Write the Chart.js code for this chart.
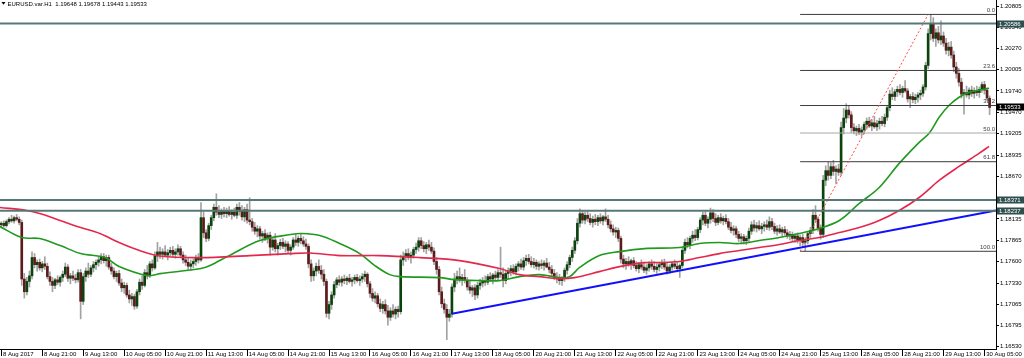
<!DOCTYPE html>
<html>
<head>
<meta charset="utf-8">
<script src="https://cdn.jsdelivr.net/npm/chart.js@4.4.0/dist/chart.umd.min.js"></script>
<style>
html, body { margin: 0; padding: 0; background: #fff; }
#wrap { width: 1024px; height: 358px; }
</style>
</head>
<body>
<div id="wrap"><canvas id="chart" width="1024" height="358"></canvas></div>
<script>
// EURUSD H1, 8 Aug 2017 05:00 .. 30 Aug 2017 07:00
const tickLabels = ['8 Aug 2017', '8 Aug 21:00', '9 Aug 13:00', '10 Aug 05:00', '10 Aug 21:00', '11 Aug 13:00',
  '14 Aug 05:00', '14 Aug 21:00', '15 Aug 13:00', '16 Aug 05:00', '16 Aug 21:00', '17 Aug 13:00', '18 Aug 05:00',
  '20 Aug 21:00', '21 Aug 13:00', '22 Aug 05:00', '22 Aug 21:00', '23 Aug 13:00', '24 Aug 05:00', '24 Aug 21:00',
  '25 Aug 13:00', '28 Aug 05:00', '28 Aug 21:00', '29 Aug 13:00', '30 Aug 05:00'];

const priceTicks = [1.20805, 1.20540, 1.20270, 1.20005, 1.19740, 1.19470, 1.19205, 1.18935, 1.18670,
  1.18135, 1.17865, 1.17600, 1.17330, 1.17065, 1.16795, 1.16530];

const opens = [
  1.1806,1.1808,1.1805,1.1810,1.1813,1.1811,1.1815,1.1813,1.1809,1.1738,
  1.1722,1.1735,1.1742,1.1765,1.1756,1.1759,1.1752,1.1757,1.1754,1.1741,
  1.1735,1.1730,1.1737,1.1734,1.1740,1.1744,1.1753,1.1739,1.1742,1.1739,
  1.1737,1.1746,1.1710,1.1741,1.1748,1.1744,1.1752,1.1756,1.1759,1.1762,
  1.1766,1.1761,1.1765,1.1753,1.1748,1.1741,1.1745,1.1733,1.1727,1.1730,
  1.1718,1.1713,1.1716,1.1704,1.1722,1.1734,1.1730,1.1746,1.1742,1.1757,
  1.1752,1.1767,1.1772,1.1769,1.1772,1.1768,1.1771,1.1774,1.1769,1.1772,
  1.1776,1.1768,1.1762,1.1759,1.1754,1.1757,1.1760,1.1764,1.1762,1.1815,
  1.1796,1.1789,1.1805,1.1815,1.1828,1.1822,1.1819,1.1823,1.1820,1.1824,
  1.1819,1.1822,1.1818,1.1828,1.1823,1.1816,1.1825,1.1812,1.1810,1.1803,
  1.1798,1.1801,1.1792,1.1795,1.1789,1.1793,1.1778,1.1787,1.1776,1.1780,
  1.1784,1.1779,1.1782,1.1774,1.1778,1.1787,1.1784,1.1789,1.1786,1.1782,
  1.1779,1.1757,1.1742,1.1748,1.1754,1.1749,1.1744,1.1735,1.1695,1.1706,
  1.1718,1.1731,1.1737,1.1734,1.1738,1.1736,1.1739,1.1735,1.1737,1.1740,
  1.1736,1.1738,1.1741,1.1744,1.1732,1.1720,1.1714,1.1717,1.1707,1.1701,
  1.1706,1.1698,1.1690,1.1698,1.1694,1.1700,1.1697,1.1762,1.1766,1.1770,
  1.1765,1.1768,1.1775,1.1778,1.1786,1.1780,1.1776,1.1781,1.1778,1.1773,
  1.1760,1.1750,1.1722,1.1707,1.1700,1.1690,1.1694,1.1728,1.1738,1.1741,
  1.1737,1.1740,1.1736,1.1728,1.1724,1.1727,1.1718,1.1730,1.1733,1.1736,
  1.1734,1.1741,1.1738,1.1743,1.1740,1.1746,1.1744,1.1736,1.1745,1.1748,
  1.1751,1.1747,1.1754,1.1757,1.1753,1.1761,1.1764,1.1760,1.1756,1.1759,
  1.1754,1.1757,1.1755,1.1758,1.1753,1.1750,1.1745,1.1740,1.1738,1.1736,
  1.1739,1.1749,1.1756,1.1765,1.1774,1.1786,1.1808,1.1820,1.1812,1.1818,
  1.1814,1.1809,1.1813,1.1810,1.1815,1.1811,1.1816,1.1813,1.1806,1.1801,
  1.1797,1.1799,1.1789,1.1763,1.1757,1.1760,1.1757,1.1761,1.1755,1.1751,
  1.1756,1.1753,1.1749,1.1752,1.1757,1.1754,1.1750,1.1753,1.1756,1.1758,
  1.1753,1.1748,1.1753,1.1757,1.1754,1.1751,1.1755,1.1774,1.1784,1.1781,
  1.1789,1.1793,1.1790,1.1800,1.1812,1.1818,1.1808,1.1813,1.1821,1.1814,
  1.1809,1.1815,1.1811,1.1814,1.1810,1.1803,1.1799,1.1801,1.1794,1.1789,
  1.1791,1.1786,1.1789,1.1798,1.1806,1.1802,1.1805,1.1801,1.1804,1.1806,
  1.1803,1.1810,1.1804,1.1798,1.1801,1.1797,1.1800,1.1796,1.1792,1.1794,
  1.1789,1.1792,1.1787,1.1790,1.1784,1.1786,1.1795,1.1799,1.1818,1.1813,
  1.1802,1.1794,1.1862,1.1874,1.1868,1.1879,1.1873,1.1876,1.1872,1.1928,
  1.1940,1.1950,1.1944,1.1928,1.1924,1.1927,1.1922,1.1925,1.1932,1.1936,
  1.1930,1.1934,1.1929,1.1933,1.1936,1.1933,1.1941,1.1953,1.1970,1.1967,
  1.1973,1.1976,1.1972,1.1977,1.1974,1.1964,1.1967,1.1963,1.1966,1.1969,
  1.1971,1.1979,1.2006,1.2046,1.2058,1.2040,1.2047,1.2038,1.2043,1.2034,
  1.2025,1.2029,1.2019,1.2004,1.1996,1.1985,1.1970,1.1972,1.1969,1.1975,
  1.1971,1.1974,1.1972,1.1976,1.1982,1.1975,1.19648
];
const highs = [
  1.1810,1.1811,1.1812,1.1815,1.1818,1.1817,1.1819,1.1816,1.1812,1.1745,
  1.1740,1.1748,1.1772,1.1770,1.1762,1.1763,1.1760,1.1766,1.1758,1.1747,
  1.1740,1.1739,1.1742,1.1742,1.1748,1.1758,1.1756,1.1745,1.1748,1.1744,
  1.1750,1.1750,1.1745,1.1752,1.1758,1.1755,1.1760,1.1762,1.1766,1.1770,
  1.1770,1.1768,1.1768,1.1758,1.1752,1.1748,1.1749,1.1738,1.1734,1.1733,
  1.1724,1.1720,1.1719,1.1725,1.1738,1.1742,1.1750,1.1755,1.1760,1.1762,
  1.1772,1.1784,1.1778,1.1776,1.1780,1.1775,1.1778,1.1779,1.1776,1.1781,
  1.1779,1.1772,1.1768,1.1764,1.1762,1.1763,1.1768,1.1770,1.1834,1.1822,
  1.1800,1.1808,1.1818,1.1832,1.1845,1.1830,1.1826,1.1828,1.1827,1.1829,
  1.1825,1.1827,1.1832,1.1834,1.1830,1.1828,1.1832,1.1840,1.1814,1.1809,
  1.1805,1.1804,1.1798,1.1800,1.1796,1.1797,1.1790,1.1795,1.1783,1.1788,
  1.1789,1.1786,1.1785,1.1781,1.1790,1.1794,1.1792,1.1795,1.1791,1.1788,
  1.1782,1.1762,1.1752,1.1758,1.1762,1.1755,1.1750,1.1738,1.1710,1.1722,
  1.1735,1.1740,1.1742,1.1741,1.1743,1.1741,1.1744,1.1740,1.1743,1.1744,
  1.1742,1.1745,1.1748,1.1746,1.1735,1.1726,1.1722,1.1720,1.1713,1.1710,
  1.1712,1.1705,1.1702,1.1706,1.1703,1.1704,1.1768,1.1772,1.1775,1.1776,
  1.1772,1.1778,1.1783,1.1790,1.1790,1.1785,1.1784,1.1787,1.1784,1.1777,
  1.1765,1.1754,1.1728,1.1713,1.1706,1.1700,1.1732,1.1745,1.1748,1.1752,
  1.1744,1.1750,1.1740,1.1735,1.1730,1.1731,1.1734,1.1738,1.1740,1.1742,
  1.1744,1.1746,1.1745,1.1748,1.1750,1.1778,1.1752,1.1748,1.1752,1.1755,
  1.1756,1.1757,1.1760,1.1763,1.1765,1.1768,1.1769,1.1766,1.1764,1.1762,
  1.1760,1.1762,1.1761,1.1764,1.1759,1.1755,1.1750,1.1746,1.1744,1.1741,
  1.1752,1.1760,1.1768,1.1778,1.1790,1.1814,1.1826,1.1824,1.1822,1.1823,
  1.1820,1.1817,1.1819,1.1818,1.1820,1.1818,1.1826,1.1818,1.1811,1.1806,
  1.1803,1.1802,1.1792,1.1768,1.1764,1.1766,1.1763,1.1765,1.1760,1.1759,
  1.1762,1.1758,1.1756,1.1760,1.1762,1.1760,1.1757,1.1759,1.1762,1.1763,
  1.1758,1.1756,1.1760,1.1762,1.1759,1.1757,1.1778,1.1788,1.1790,1.1792,
  1.1798,1.1800,1.1803,1.1815,1.1822,1.1824,1.1816,1.1827,1.1825,1.1820,
  1.1818,1.1820,1.1817,1.1819,1.1814,1.1809,1.1805,1.1804,1.1798,1.1795,
  1.1794,1.1792,1.1802,1.1810,1.1812,1.1809,1.1811,1.1808,1.1810,1.1812,
  1.1816,1.1814,1.1808,1.1805,1.1806,1.1803,1.1804,1.1800,1.1798,1.1797,
  1.1795,1.1796,1.1793,1.1794,1.1790,1.1797,1.1803,1.1825,1.1830,1.1816,
  1.1806,1.1868,1.1880,1.1885,1.1884,1.1887,1.1880,1.1882,1.1935,1.1952,
  1.1958,1.1956,1.1948,1.1933,1.1930,1.1932,1.1929,1.1935,1.1940,1.1941,
  1.1938,1.1942,1.1937,1.1940,1.1942,1.1945,1.1956,1.1975,1.1978,1.1976,
  1.1980,1.1982,1.1980,1.1987,1.1977,1.1970,1.1972,1.1970,1.1972,1.1975,
  1.1982,1.2010,1.2052,1.2070,1.2066,1.2052,1.2055,1.2062,1.2048,1.2040,
  1.2035,1.2036,1.2024,1.2010,1.2002,1.1990,1.1976,1.1980,1.1978,1.1980,
  1.1978,1.1980,1.1979,1.1985,1.1986,1.1978,1.19678
];
const lows = [
  1.1802,1.1803,1.1803,1.1807,1.1809,1.1808,1.1811,1.1806,1.1730,1.1714,
  1.1718,1.1728,1.1738,1.1752,1.1748,1.1749,1.1747,1.1750,1.1738,1.1730,
  1.1722,1.1726,1.1731,1.1729,1.1735,1.1741,1.1735,1.1732,1.1736,1.1733,
  1.1734,1.1688,1.1706,1.1735,1.1740,1.1741,1.1747,1.1750,1.1754,1.1757,
  1.1758,1.1754,1.1750,1.1744,1.1738,1.1735,1.1730,1.1722,1.1720,1.1715,
  1.1708,1.1705,1.1700,1.1701,1.1718,1.1725,1.1728,1.1738,1.1740,1.1748,
  1.1750,1.1760,1.1764,1.1763,1.1766,1.1762,1.1767,1.1766,1.1764,1.1768,
  1.1765,1.1758,1.1755,1.1750,1.1749,1.1752,1.1755,1.1758,1.1760,1.1790,
  1.1785,1.1786,1.1800,1.1811,1.1818,1.1815,1.1814,1.1816,1.1815,1.1817,
  1.1813,1.1816,1.1814,1.1818,1.1812,1.1810,1.1808,1.1806,1.1798,1.1794,
  1.1791,1.1788,1.1784,1.1786,1.1783,1.1768,1.1774,1.1772,1.1768,1.1775,
  1.1776,1.1772,1.1770,1.1768,1.1775,1.1780,1.1779,1.1782,1.1779,1.1775,
  1.1752,1.1735,1.1736,1.1742,1.1745,1.1738,1.1730,1.1690,1.1688,1.1700,
  1.1714,1.1727,1.1730,1.1729,1.1732,1.1731,1.1733,1.1729,1.1732,1.1734,
  1.1730,1.1734,1.1735,1.1728,1.1715,1.1710,1.1708,1.1703,1.1697,1.1695,
  1.1694,1.1680,1.1686,1.1690,1.1688,1.1690,1.1694,1.1755,1.1760,1.1762,
  1.1758,1.1764,1.1770,1.1773,1.1776,1.1772,1.1770,1.1774,1.1770,1.1756,
  1.1744,1.1718,1.1702,1.1695,1.1662,1.1685,1.1690,1.1722,1.1732,1.1734,
  1.1730,1.1733,1.1724,1.1720,1.1716,1.1712,1.1714,1.1725,1.1728,1.1730,
  1.1731,1.1735,1.1732,1.1737,1.1736,1.1740,1.1728,1.1732,1.1738,1.1742,
  1.1744,1.1743,1.1748,1.1750,1.1749,1.1755,1.1757,1.1753,1.1752,1.1750,
  1.1749,1.1751,1.1749,1.1752,1.1746,1.1742,1.1737,1.1733,1.1731,1.1730,
  1.1735,1.1744,1.1752,1.1760,1.1770,1.1782,1.1803,1.1808,1.1807,1.1810,
  1.1806,1.1803,1.1806,1.1805,1.1808,1.1806,1.1810,1.1802,1.1797,1.1793,
  1.1790,1.1785,1.1758,1.1752,1.1750,1.1754,1.1750,1.1752,1.1748,1.1746,
  1.1750,1.1746,1.1744,1.1748,1.1750,1.1747,1.1745,1.1748,1.1751,1.1750,
  1.1744,1.1745,1.1749,1.1751,1.1747,1.1740,1.1752,1.1770,1.1777,1.1776,
  1.1784,1.1786,1.1787,1.1796,1.1806,1.1805,1.1802,1.1808,1.1810,1.1805,
  1.1806,1.1808,1.1806,1.1807,1.1800,1.1796,1.1793,1.1790,1.1785,1.1783,
  1.1782,1.1781,1.1785,1.1794,1.1798,1.1797,1.1799,1.1795,1.1798,1.1800,
  1.1799,1.1800,1.1795,1.1793,1.1795,1.1792,1.1793,1.1789,1.1787,1.1785,
  1.1784,1.1783,1.1780,1.1780,1.1773,1.1782,1.1790,1.1795,1.1810,1.1798,
  1.1788,1.1790,1.1855,1.1862,1.1864,1.1868,1.1858,1.1868,1.1868,1.1920,
  1.1934,1.1940,1.1922,1.1920,1.1918,1.1919,1.1917,1.1920,1.1926,1.1928,
  1.1924,1.1927,1.1924,1.1926,1.1930,1.1929,1.1937,1.1949,1.1963,1.1962,
  1.1967,1.1969,1.1966,1.1972,1.1960,1.1953,1.1959,1.1958,1.1960,1.1963,
  1.1967,1.1975,1.2002,1.2038,1.2036,1.2030,1.2034,1.2032,1.2030,1.2020,
  1.2018,1.2015,1.1998,1.1990,1.1980,1.1965,1.1945,1.1966,1.1964,1.1967,
  1.1965,1.1968,1.1966,1.1972,1.1970,1.1962,1.19443
];
const closes = [
  1.1808,1.1805,1.1810,1.1813,1.1811,1.1815,1.1813,1.1809,1.1738,1.1722,
  1.1735,1.1742,1.1765,1.1756,1.1759,1.1752,1.1757,1.1754,1.1741,1.1735,
  1.1730,1.1737,1.1734,1.1740,1.1744,1.1753,1.1739,1.1742,1.1739,1.1737,
  1.1746,1.1710,1.1741,1.1748,1.1744,1.1752,1.1756,1.1759,1.1762,1.1766,
  1.1761,1.1765,1.1753,1.1748,1.1741,1.1745,1.1733,1.1727,1.1730,1.1718,
  1.1713,1.1716,1.1704,1.1722,1.1734,1.1730,1.1746,1.1742,1.1757,1.1752,
  1.1767,1.1772,1.1769,1.1772,1.1768,1.1771,1.1774,1.1769,1.1772,1.1776,
  1.1768,1.1762,1.1759,1.1754,1.1757,1.1760,1.1764,1.1762,1.1815,1.1796,
  1.1789,1.1805,1.1815,1.1828,1.1822,1.1819,1.1823,1.1820,1.1824,1.1819,
  1.1822,1.1818,1.1828,1.1823,1.1816,1.1825,1.1812,1.1810,1.1803,1.1798,
  1.1801,1.1792,1.1795,1.1789,1.1793,1.1778,1.1787,1.1776,1.1780,1.1784,
  1.1779,1.1782,1.1774,1.1778,1.1787,1.1784,1.1789,1.1786,1.1782,1.1779,
  1.1757,1.1742,1.1748,1.1754,1.1749,1.1744,1.1735,1.1695,1.1706,1.1718,
  1.1731,1.1737,1.1734,1.1738,1.1736,1.1739,1.1735,1.1737,1.1740,1.1736,
  1.1738,1.1741,1.1744,1.1732,1.1720,1.1714,1.1717,1.1707,1.1701,1.1706,
  1.1698,1.1690,1.1698,1.1694,1.1700,1.1697,1.1762,1.1766,1.1770,1.1765,
  1.1768,1.1775,1.1778,1.1786,1.1780,1.1776,1.1781,1.1778,1.1773,1.1760,
  1.1750,1.1722,1.1707,1.1700,1.1690,1.1694,1.1728,1.1738,1.1741,1.1737,
  1.1740,1.1736,1.1728,1.1724,1.1727,1.1718,1.1730,1.1733,1.1736,1.1734,
  1.1741,1.1738,1.1743,1.1740,1.1746,1.1744,1.1736,1.1745,1.1748,1.1751,
  1.1747,1.1754,1.1757,1.1753,1.1761,1.1764,1.1760,1.1756,1.1759,1.1754,
  1.1757,1.1755,1.1758,1.1753,1.1750,1.1745,1.1740,1.1738,1.1736,1.1739,
  1.1749,1.1756,1.1765,1.1774,1.1786,1.1808,1.1820,1.1812,1.1818,1.1814,
  1.1809,1.1813,1.1810,1.1815,1.1811,1.1816,1.1813,1.1806,1.1801,1.1797,
  1.1799,1.1789,1.1763,1.1757,1.1760,1.1757,1.1761,1.1755,1.1751,1.1756,
  1.1753,1.1749,1.1752,1.1757,1.1754,1.1750,1.1753,1.1756,1.1758,1.1753,
  1.1748,1.1753,1.1757,1.1754,1.1751,1.1755,1.1774,1.1784,1.1781,1.1789,
  1.1793,1.1790,1.1800,1.1812,1.1818,1.1808,1.1813,1.1821,1.1814,1.1809,
  1.1815,1.1811,1.1814,1.1810,1.1803,1.1799,1.1801,1.1794,1.1789,1.1791,
  1.1786,1.1789,1.1798,1.1806,1.1802,1.1805,1.1801,1.1804,1.1806,1.1803,
  1.1810,1.1804,1.1798,1.1801,1.1797,1.1800,1.1796,1.1792,1.1794,1.1789,
  1.1792,1.1787,1.1790,1.1784,1.1786,1.1795,1.1799,1.1818,1.1813,1.1802,
  1.1794,1.1862,1.1874,1.1868,1.1879,1.1873,1.1876,1.1872,1.1928,1.1940,
  1.1950,1.1944,1.1928,1.1924,1.1927,1.1922,1.1925,1.1932,1.1936,1.1930,
  1.1934,1.1929,1.1933,1.1936,1.1933,1.1941,1.1953,1.1970,1.1967,1.1973,
  1.1976,1.1972,1.1977,1.1974,1.1964,1.1967,1.1963,1.1966,1.1969,1.1971,
  1.1979,1.2006,1.2046,1.2058,1.2040,1.2047,1.2038,1.2043,1.2034,1.2025,
  1.2029,1.2019,1.2004,1.1996,1.1985,1.1970,1.1972,1.1969,1.1975,1.1971,
  1.1974,1.1972,1.1976,1.1982,1.1975,1.1965,1.19533
];

const greenMaBars = [-0.5, 8, 15, 23, 31, 40.5, 46, 57, 62, 78, 81.5, 89, 101, 113, 117, 124.4, 132.2, 140, 145.9,
  151.7, 155.6, 171.2, 177, 186.8, 194.6, 202.4, 210.2, 218, 222, 225.8, 233.6, 241.5, 251.2, 264.9, 272.7, 280.5,
  288.3, 296.1, 303.9, 311.7, 319.5, 327.3, 335.1, 342.9, 350.7, 358.5, 362.4, 366.3, 370.2, 374.1, 378, 381.9, 385.8];
const greenMaVals = [1.18039, 1.17900, 1.17888, 1.17800, 1.17699, 1.17649, 1.17536, 1.17423, 1.17448, 1.17511, 1.17549,
  1.17674, 1.17863, 1.17938, 1.17951, 1.17926, 1.17825, 1.17699, 1.17549, 1.17435, 1.17410, 1.17398, 1.17372, 1.17360,
  1.17360, 1.17410, 1.17435, 1.17398, 1.17410, 1.17523, 1.17674, 1.17724, 1.17762, 1.17775, 1.17825, 1.17838, 1.17825,
  1.17863, 1.17901, 1.17951, 1.18014, 1.18114, 1.18328, 1.18529, 1.18831, 1.19095, 1.19208, 1.19409, 1.19560, 1.19661,
  1.19724, 1.19749, 1.19774];
const redMaBars = [-0.5, 10, 15, 23, 31, 38.5, 46, 54, 62, 77.5, 97, 112.7, 120.5, 132.2, 147.8, 163.4, 179, 194.6,
  202.4, 210.2, 218, 223.9, 233.6, 241.5, 251.2, 257.1, 264.9, 272.7, 280.5, 288.3, 296.1, 303.9, 311.7, 319.5, 327.3,
  335.1, 342.9, 350.7, 358.5, 366.3, 374.1, 381.9, 385.8];
const redMaVals = [1.18278, 1.18240, 1.18202, 1.18114, 1.18026, 1.17951, 1.17838, 1.17737, 1.17668, 1.17649, 1.17674,
  1.17699, 1.17706, 1.17674, 1.17674, 1.17649, 1.17611, 1.17511, 1.17435, 1.17410, 1.17385, 1.17398, 1.17473, 1.17536,
  1.17586, 1.17586, 1.17599, 1.17649, 1.17699, 1.17737, 1.17775, 1.17813, 1.17863, 1.17901, 1.17963, 1.18026, 1.18114,
  1.18240, 1.18403, 1.18617, 1.18793, 1.18957, 1.19045];

// drawn objects
const hLines = [1.20586, 1.18371, 1.18237];
const trendBars = [176, 388.5];
const trendVals = [1.16945, 1.18240];
const fibBars = [312, 362];
const fibAnchors = [1.1773, 1.2070];
const fibNames = ['0.0', '23.6', '38.2', '50.0', '61.8', '100.0'];
const fibPrices = [1.2070, 1.19997, 1.19557, 1.19212, 1.18852, 1.17728];
const header = 'EURUSD.var.H1  1.19648 1.19678 1.19443 1.19533';
const lastPrice = 1.19533;

const nSlots = 389;
const FONT = '"Liberation Sans", Arial, sans-serif';

const timeLabels = [];
for (let i = 0; i < nSlots; i++) {
  timeLabels.push(i % 16 === 0 && tickLabels[i / 16] ? tickLabels[i / 16] : '');
}

const bull = '#0c430c', bear = '#5c1c1c', wick = '#a2a2a2';

function seg(xs, ys) { return xs.map((x, i) => ({ x: x, y: ys[i] })); }

const datasets = [
  {
    type: 'bar', label: 'wick', xAxisID: 'x', yAxisID: 'y',
    data: lows.map((l, i) => [l, highs[i]]),
    backgroundColor: wick, barThickness: 1, grouped: false, order: 20
  },
  {
    type: 'bar', label: 'body', xAxisID: 'x', yAxisID: 'y',
    data: opens.map((o, i) => [o, closes[i]]),
    backgroundColor: closes.map((c, i) => (c >= opens[i] ? bull : bear)),
    barThickness: 2, minBarLength: 1, grouped: false, order: 19
  },
  {
    type: 'line', label: 'ma fast', xAxisID: 'x2', yAxisID: 'y', data: seg(greenMaBars, greenMaVals),
    borderColor: '#1f9a1f', borderWidth: 1.6, pointRadius: 0, tension: 0.35, order: 8
  },
  {
    type: 'line', label: 'ma slow', xAxisID: 'x2', yAxisID: 'y', data: seg(redMaBars, redMaVals),
    borderColor: '#e3284c', borderWidth: 1.6, pointRadius: 0, tension: 0.35, order: 7
  },
  {
    type: 'line', label: 'trend', xAxisID: 'x2', yAxisID: 'y', data: seg(trendBars, trendVals),
    borderColor: '#1010ff', borderWidth: 2, pointRadius: 0, order: 3
  },
  {
    type: 'line', label: 'fib trend', xAxisID: 'x2', yAxisID: 'y', data: seg(fibBars, fibAnchors),
    borderColor: '#ff4a4a', borderWidth: 1, borderDash: [2, 2], pointRadius: 0, order: 4
  }
];
hLines.forEach(v => datasets.push({
  type: 'line', label: 'h ' + v, xAxisID: 'x2', yAxisID: 'y', data: seg([-0.5, nSlots - 0.5], [v, v]),
  borderColor: '#587878', borderWidth: 2, pointRadius: 0, order: 2
}));
fibPrices.forEach((v, i) => datasets.push({
  type: 'line', label: 'fib ' + fibNames[i], xAxisID: 'x2', yAxisID: 'y', data: seg([fibBars[0], nSlots - 0.5], [v, v]),
  borderColor: fibNames[i] === '50.0' ? '#a8a8a8' : '#3c3c3c', borderWidth: 1, pointRadius: 0, order: 5
}));

const overlay = {
  id: 'overlay',
  afterDraw(chart) {
    const ctx = chart.ctx, area = chart.chartArea, y = chart.scales.y;
    ctx.save();
    ctx.font = '6px ' + FONT;
    // fib level names
    ctx.fillStyle = '#3c3c3c';
    ctx.textAlign = 'right';
    ctx.textBaseline = 'bottom';
    fibPrices.forEach((v, i) => ctx.fillText(fibNames[i], area.right - 1, y.getPixelForValue(v) - 1));
    // price boxes on the axis
    ctx.textAlign = 'left';
    ctx.textBaseline = 'middle';
    const box = (v, bg) => {
      const py = Math.round(y.getPixelForValue(v));
      ctx.fillStyle = bg;
      ctx.fillRect(area.right + 1, py - 3.5, 27, 7);
      ctx.fillStyle = '#ffffff';
      ctx.fillText(v.toFixed(5), area.right + 3, py + 0.5);
    };
    hLines.forEach(v => box(v, '#2f4f4f'));
    box(lastPrice, '#000000');
    // header
    ctx.fillStyle = '#000';
    ctx.beginPath();
    ctx.moveTo(1.5, 2); ctx.lineTo(5.5, 2); ctx.lineTo(3.5, 4.8); ctx.closePath(); ctx.fill();
    ctx.fillText(header, 7.5, 4);
    ctx.restore();
  }
};

new Chart(document.getElementById('chart'), {
  type: 'bar',
  data: { labels: timeLabels, datasets: datasets },
  options: {
    responsive: false,
    animation: false,
    devicePixelRatio: 1,
    events: [],
    layout: { padding: 0 },
    plugins: { legend: { display: false }, tooltip: { enabled: false } },
    scales: {
      x: {
        type: 'category', offset: true,
        grid: {
          drawOnChartArea: false, offset: false, tickLength: 7,
          tickColor: c => (c.index % 16 === 0 && c.index <= 384 ? '#000' : 'rgba(0,0,0,0)')
        },
        border: { color: '#000' },
        ticks: {
          autoSkip: false, maxRotation: 0, minRotation: 0, align: 'start', padding: -5,
          color: '#000', font: { family: FONT, size: 6 },
          callback: (v, i) => (timeLabels[i] ? ' ' + timeLabels[i] : '')
        },
        afterFit: s => { s.height = 9; s.paddingLeft = 0; s.paddingRight = 0; }
      },
      x2: {
        type: 'linear', axis: 'x', position: 'bottom', display: true, offset: false,
        min: -0.5, max: nSlots - 0.5,
        grid: { display: false }, border: { display: false }, ticks: { display: false },
        afterFit: s => { s.height = 0; s.paddingLeft = 0; s.paddingRight = 0; }
      },
      y: {
        position: 'right', min: 1.16502, max: 1.20881,
        grid: { drawOnChartArea: false, tickLength: 3, color: '#000' },
        border: { color: '#000' },
        ticks: {
          autoSkip: false, padding: 1, color: '#000', font: { family: FONT, size: 6 },
          callback: v => Number(v).toFixed(5)
        },
        afterBuildTicks: s => { s.ticks = priceTicks.map(v => ({ value: v })); },
        afterFit: s => { s.width = 28; s.paddingTop = 0; s.paddingBottom = 0; }
      }
    }
  },
  plugins: [overlay]
});
</script>
</body>
</html>
